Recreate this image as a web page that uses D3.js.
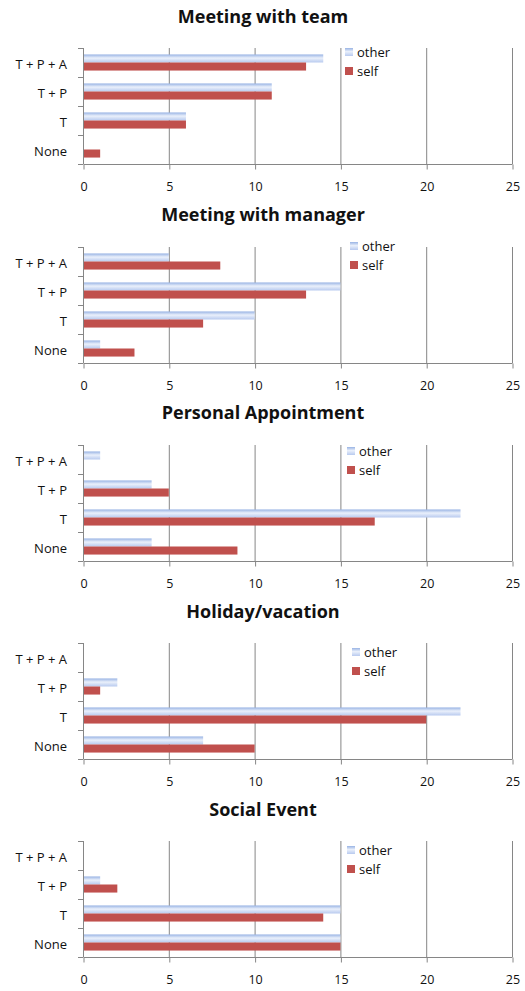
<!DOCTYPE html>
<html>
<head>
<meta charset="utf-8">
<script src="https://cdn.jsdelivr.net/npm/d3@7"></script>
<style>
  html, body { margin: 0; padding: 0; background: #fff; }
  svg { display: block; }
  text { font-family: "Open Sans", "Noto Sans", sans-serif; fill: #111; }
</style>
</head>
<body>
<svg id="chart" width="525" height="991"></svg>
<script>
// Response categories, listed bottom to top
const categories = ["None", "T", "T + P", "T + P + A"];
const seriesNames = ["other", "self"];
const panelTitles = ["Meeting with team", "Meeting with manager", "Personal Appointment", "Holiday/vacation", "Social Event"];
// values per panel, in the order of `categories`
const otherValues = [
  [0, 6, 11, 14],
  [1, 10, 15, 5],
  [4, 22, 4, 1],
  [7, 22, 2, 0],
  [15, 15, 1, 0]
];
const selfValues = [
  [1, 6, 11, 13],
  [3, 7, 13, 8],
  [9, 17, 5, 0],
  [10, 20, 1, 0],
  [15, 14, 2, 0]
];
const xTicks = [0, 5, 10, 15, 20, 25];

// layout
const plotLeft = 83, plotRight = 512, plotHeight = 116;
const panelTop = [48, 247, 445, 643, 841];
const titleY = [16, 214, 412, 611, 809];
const legendPos = [[345, 52], [350, 246], [347, 451], [352, 652], [347, 850]];
const colors = { other: "url(#otherFill)", self: "#c0504d" };
const axisColor = "#868686";

const svg = d3.select("#chart");

// glossy light-blue fill for the "other" bars
const defs = svg.append("defs");
const grad = defs.append("linearGradient")
  .attr("id", "otherFill").attr("x1", 0).attr("y1", 0).attr("x2", 0).attr("y2", 1);
grad.append("stop").attr("offset", "0%").attr("stop-color", "#98b3e4");
grad.append("stop").attr("offset", "45%").attr("stop-color", "#eaf0fb");
grad.append("stop").attr("offset", "100%").attr("stop-color", "#b8caef");

const x = d3.scaleLinear().domain([0, 25]).range([plotLeft, plotRight]);

panelTitles.forEach((title, i) => {
  const top = panelTop[i];
  const bottom = top + plotHeight;
  const g = svg.append("g");

  const y = d3.scaleBand()
    .domain(categories.slice().reverse())
    .range([top, bottom])
    .paddingInner(0).paddingOuter(0);
  const inner = d3.scaleBand()
    .domain(seriesNames)
    .range([0, y.bandwidth()])
    .paddingInner(0).paddingOuter(0.8);

  // title
  g.append("text")
    .attr("x", 263).attr("y", titleY[i])
    .attr("text-anchor", "middle").attr("dominant-baseline", "central")
    .style("font-weight", "bold").style("font-size", "18px")
    .text(title);

  // vertical gridlines
  g.selectAll(".grid")
    .data(xTicks.slice(1))
    .join("line")
    .attr("x1", d => x(d) + 0.5).attr("x2", d => x(d) + 0.5)
    .attr("y1", top).attr("y2", bottom)
    .attr("stroke", axisColor).attr("stroke-width", 1);

  // bars
  const rows = categories.map((c, k) => ({ c, other: otherValues[i][k], self: selfValues[i][k] }));
  seriesNames.forEach(s => {
    g.selectAll(".bar-" + s)
      .data(rows.filter(r => r[s] > 0))
      .join("rect")
      .attr("x", x(0) + 1)
      .attr("y", r => y(r.c) + inner(s))
      .attr("width", r => x(r[s]) - x(0) - 1)
      .attr("height", inner.bandwidth())
      .attr("fill", colors[s]);
  });

  // bottom value axis
  const xAxis = d3.axisBottom(x).tickValues(xTicks).tickSize(5).tickPadding(13).tickFormat(d3.format("d"));
  const ax = g.append("g").attr("transform", `translate(0.5,${bottom + 0.5})`).call(xAxis);
  ax.select(".domain").attr("stroke", axisColor).attr("d", `M${plotLeft},0H${plotRight}`);
  ax.selectAll(".tick line").attr("stroke", axisColor);
  ax.selectAll(".tick text").style("font-size", "12.5px").attr("fill", "#111")
    .style("font-family", "'Open Sans', sans-serif");

  // left category axis: ticks on the band boundaries
  g.append("line")
    .attr("x1", plotLeft + 0.5).attr("x2", plotLeft + 0.5)
    .attr("y1", top).attr("y2", bottom)
    .attr("stroke", axisColor);
  const bounds = categories.map(c => y(c)).concat([bottom]);
  g.selectAll(".ytick")
    .data(bounds)
    .join("line")
    .attr("x1", plotLeft - 5).attr("x2", plotLeft)
    .attr("y1", d => Math.round(d) + 0.5).attr("y2", d => Math.round(d) + 0.5)
    .attr("stroke", axisColor);
  g.selectAll(".ylabel")
    .data(categories)
    .join("text")
    .attr("x", 67)
    .attr("y", c => y(c) + y.bandwidth() / 2 + 1)
    .attr("text-anchor", "end").attr("dominant-baseline", "central")
    .style("font-size", "13px")
    .text(c => c);

  // legend
  const [lx, ly] = legendPos[i];
  const leg = g.selectAll(".legend")
    .data(seriesNames)
    .join("g")
    .attr("transform", (d, k) => `translate(${lx},${ly + k * 19})`);
  leg.append("rect")
    .attr("x", 0).attr("y", -4).attr("width", 8).attr("height", 8)
    .attr("fill", d => colors[d]);
  leg.append("text")
    .attr("x", 12).attr("y", 0)
    .attr("dominant-baseline", "central")
    .style("font-size", "13px")
    .text(d => d);
});
</script>
</body>
</html>
